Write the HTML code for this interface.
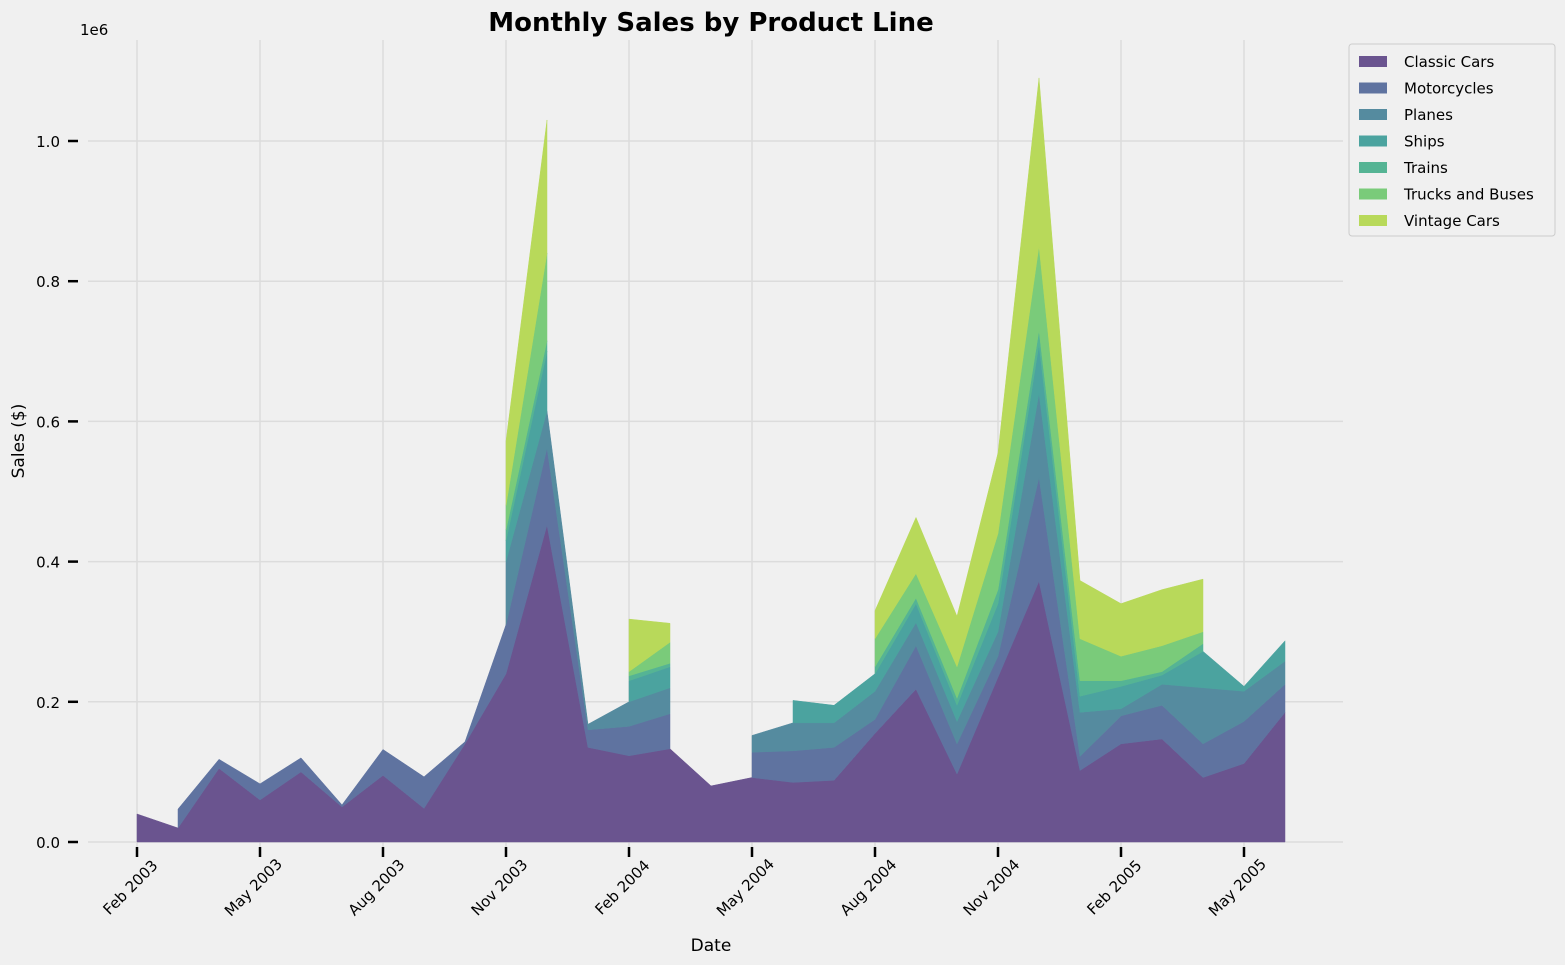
<!DOCTYPE html>
<html><head><meta charset="utf-8"><style>
body{margin:0;background:#f0f0f0;font-family:"DejaVu Sans","Liberation Sans",sans-serif;}
svg{display:block}
</style></head><body>
<svg id="chart" width="1565" height="965" xmlns="http://www.w3.org/2000/svg" font-family="DejaVu Sans, Liberation Sans, sans-serif">
<rect width="1565" height="965" fill="#f0f0f0"/>
<g id="grid"></g><g id="areas"></g><g id="axes"></g>
<text x="711" y="31" text-anchor="middle" font-size="26" font-weight="bold" fill="#000">Monthly Sales by Product Line</text>
<text x="80" y="35" font-size="15" fill="#000">1e6</text>
<text x="711" y="951" text-anchor="middle" font-size="17" fill="#000">Date</text>
<text transform="translate(24,441) rotate(-90)" text-anchor="middle" font-size="17" fill="#000">Sales ($)</text>
<g id="legend"></g>
</svg>
<script>
const seriesNames=["Classic Cars","Motorcycles","Planes","Ships","Trains","Trucks and Buses","Vintage Cars"];
const colors=["#6a548f","#5f73a0","#558b9f","#4ba39f","#55b494","#7acb7a","#b8d95a"];
const xTickLabels=["Feb 2003","May 2003","Aug 2003","Nov 2003","Feb 2004","May 2004","Aug 2004","Nov 2004","Feb 2005","May 2005"];
const xTickIdx=[0,3,6,9,12,15,18,21,24,27];
const yTicks=[0,0.2,0.4,0.6,0.8,1.0];
// cumulative stack tops (thousands $), null = missing
const classicCars=[40,20,105,60,100,50,95,48,140,240,452,135,123,133,80,92,85,88,155,218,97,235,372,102,140,147,92,112,185];
const motorcycles=[null,47,118,83,120,53,132,93,143,310,562,160,165,183,null,128,130,135,175,280,140,265,520,122,180,195,140,172,225];
const planes=[null,null,null,null,null,null,null,null,null,400,615,168,200,220,null,152,170,170,215,313,172,300,640,185,190,225,220,215,258];
const ships=[null,null,null,null,null,null,null,null,null,430,700,null,230,250,null,null,202,195,240,340,195,340,710,208,222,238,272,222,287];
const trains=[null,null,null,null,null,null,null,null,null,445,715,null,237,255,null,null,null,null,250,348,205,360,730,230,230,243,283,null,null];
const trucks=[null,null,null,null,null,null,null,null,null,480,840,null,243,285,null,null,null,null,290,383,250,440,850,290,265,280,300,null,null];
const vintage=[null,null,null,null,null,null,null,null,null,572,1030,null,318,312,null,null,null,null,330,463,322,555,1090,373,340,360,375,null,null];
const tops=[classicCars,motorcycles,planes,ships,trains,trucks,vintage];
const NS="http://www.w3.org/2000/svg";
const xS=i=>137+i*41;
const yS=v=>842-v/1000*701;
const mk=(t,a,p)=>{const e=document.createElementNS(NS,t);for(const k in a)e.setAttribute(k,a[k]);p.appendChild(e);return e;};
const grid=document.getElementById('grid'),axes=document.getElementById('axes'),areas=document.getElementById('areas');
yTicks.forEach(v=>{const y=yS(v*1000);
 let l=mk('line',{x1:88,x2:1343,y1:y,y2:y,stroke:'#dcdcdc','stroke-width':1.5},grid);
 
 let t=mk('line',{x1:68,x2:78,y1:y,y2:y,stroke:'#000','stroke-width':2.5},axes);
 
 let tx=mk('text',{x:60,y:y+6,'text-anchor':'end','font-size':15,fill:'#000'},axes);tx.textContent=v.toFixed(1);
 
});
xTickIdx.forEach((idx,k)=>{const x=xS(idx);
 let l=mk('line',{x1:x,x2:x,y1:40,y2:857,stroke:'#dcdcdc','stroke-width':1.5},grid);
 
 let t=mk('line',{x1:x,x2:x,y1:847,y2:857,stroke:'#000','stroke-width':2.5},axes);
 
 let tx=mk('text',{transform:`translate(${x-3},891) rotate(-45)`,'text-anchor':'middle','font-size':15,fill:'#000'},axes);tx.textContent=xTickLabels[k];
 
});
tops.forEach((top,s)=>{
 const bot=s===0?top.map(()=>0):tops[s-1];
 let seg=[];
 const flush=()=>{if(seg.length>1){let d='M'+seg.map(i=>xS(i)+','+yS(top[i])).join('L');
   d+='L'+seg.slice().reverse().map(i=>xS(i)+','+yS(bot[i])).join('L')+'Z';
   let p=mk('path',{d:d,fill:colors[s],stroke:colors[s],'stroke-width':0.5},areas);
   
   }seg=[];};
 for(let i=0;i<top.length;i++){if(top[i]!==null&&bot[i]!==null)seg.push(i);else flush();}
 flush();
});
const lg=document.getElementById('legend');
let box=mk('rect',{x:1349,y:44,width:206,height:192,rx:3,fill:'#f0f0f0',stroke:'#cccccc'},lg);

seriesNames.forEach((n,i)=>{const y=62+i*26.5;
 let r=mk('rect',{x:1359,y:y-6,width:28,height:11,fill:colors[i]},lg);
 
 let t=mk('text',{x:1404,y:y+5,'font-size':15,fill:'#000'},lg);t.textContent=n;
 
});
</script>
</body></html>
